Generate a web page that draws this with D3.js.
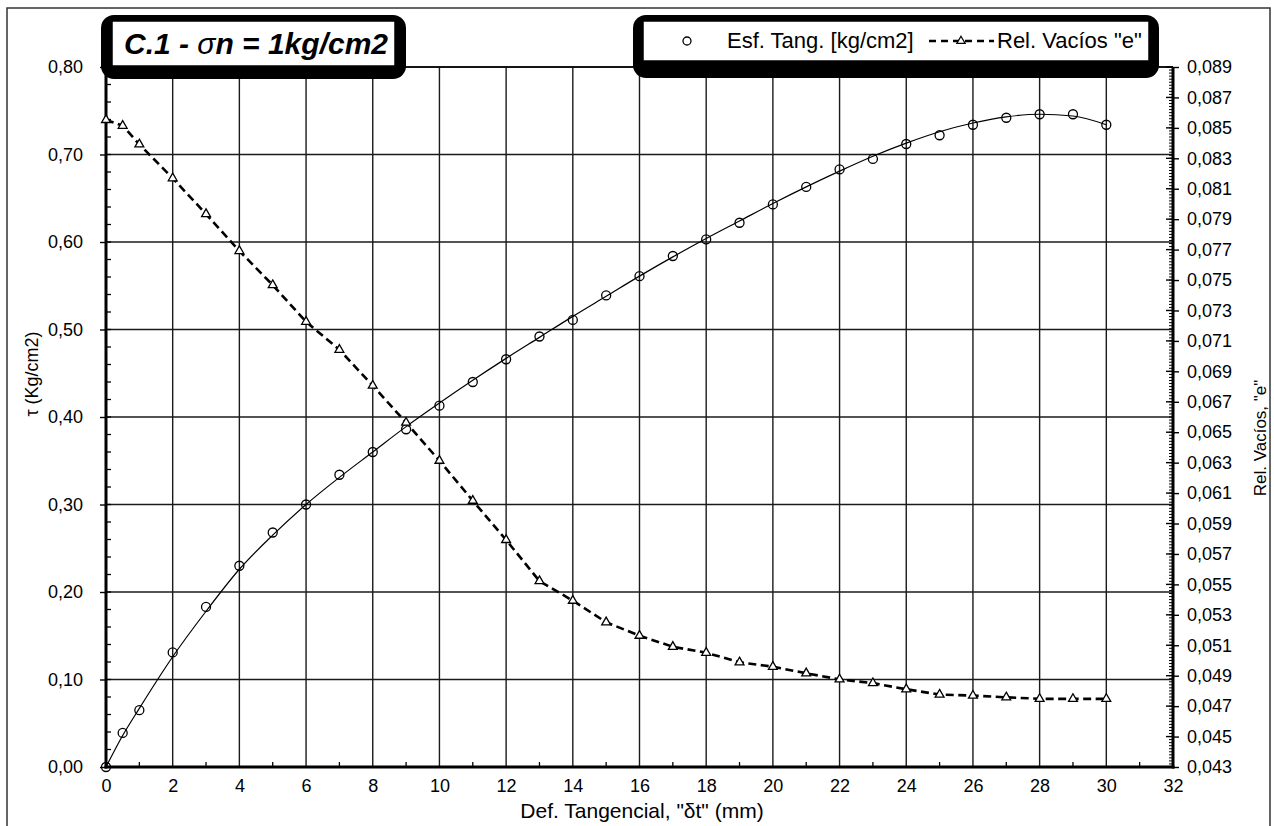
<!DOCTYPE html>
<html>
<head>
<meta charset="utf-8">
<script src="https://cdn.jsdelivr.net/npm/d3@7"></script>
<style>
  html, body { margin: 0; padding: 0; background: #fff; }
  svg { display: block; font-family: Arial, "Liberation Sans", sans-serif; }
</style>
</head>
<body>
<svg id="chart" width="1274" height="826"></svg>
<script>
// ---- data ----
const defX = [0, 0.5, 1, 2, 3, 4, 5, 6, 7, 8, 9, 10, 11, 12, 13, 14, 15, 16, 17, 18, 19, 20, 21, 22, 23, 24, 25, 26, 27, 28, 29, 30];
const esfTang = [0.000, 0.039, 0.065, 0.131, 0.183, 0.230, 0.268, 0.300, 0.334, 0.360, 0.386, 0.413, 0.440, 0.466, 0.492, 0.511, 0.539, 0.561, 0.584, 0.603, 0.622, 0.643, 0.663, 0.683, 0.695, 0.712, 0.722, 0.734, 0.742, 0.746, 0.746, 0.734];
const relVacios = [0.08552, 0.08514, 0.08392, 0.08169, 0.07934, 0.07691, 0.07467, 0.07226, 0.07042, 0.06806, 0.06563, 0.06313, 0.06050, 0.05792, 0.05522, 0.05393, 0.05251, 0.05163, 0.05090, 0.05051, 0.04988, 0.04959, 0.04916, 0.04876, 0.04851, 0.04811, 0.04776, 0.04769, 0.04758, 0.04748, 0.04748, 0.04748];
// smooth trend line drawn through the shear-stress points
const trendX = [0, 0.5, 1, 2, 3, 4, 5, 6, 7, 8, 9, 10, 11, 12, 13, 14, 15, 16, 17, 18, 19, 20, 21, 22, 23, 24, 25, 26, 27, 28, 29, 30];
const trendTau = [0.000, 0.036, 0.067, 0.126, 0.178, 0.226, 0.265, 0.300, 0.331, 0.360, 0.389, 0.416, 0.442, 0.467, 0.491, 0.515, 0.538, 0.561, 0.583, 0.604, 0.624, 0.644, 0.663, 0.681, 0.698, 0.713, 0.726, 0.736, 0.743, 0.746, 0.744, 0.734];

const xTicks = d3.range(0, 33, 2);
const xMinor = d3.range(1, 32, 2);
const yLeftTicks = d3.range(0, 0.801, 0.1);
const yLeftMinor = d3.range(0, 0.801, 0.02);
const yRightTicks = d3.range(0.043, 0.0891, 0.002);
const yRightMinor = d3.range(0.043, 0.0891, 0.0002);

const titleText = "C.1 - ";
const legendLabels = ["Esf. Tang. [kg/cm2]", "Rel. Vacíos \"e\""];
const xTitle = "Def. Tangencial, \"δt\" (mm)";
const yLeftTitle = "τ  (Kg/cm2)";
const yRightTitle = "Rel. Vacíos,  \"e\"";

// ---- layout ----
const L = 106, R = 1173, T = 67, B = 767;
const FONT = "Arial, 'Liberation Sans', sans-serif";
const svg = d3.select("#chart");

const x = d3.scaleLinear().domain([0, 32]).range([L, R]);
const yL = d3.scaleLinear().domain([0, 0.8]).range([B, T]);
const yR = d3.scaleLinear().domain([0.043, 0.089]).range([B, T]);
const comma = f => v => d3.format(f)(v).replace(".", ",");

// outer frame
svg.append("path").attr("d", "M7,830 L7,8 L1270,8 L1270,830")
  .attr("fill", "none").attr("stroke", "#333").attr("stroke-width", 1.5);

// grid
const grid = svg.append("g").attr("stroke", "#1a1a1a").attr("stroke-width", 1.4);
grid.selectAll(".gv").data(xTicks.filter(d => d > 0 && d < 32)).join("line")
  .attr("x1", d => x(d)).attr("x2", d => x(d)).attr("y1", T).attr("y2", B);
grid.selectAll(".gh").data(yLeftTicks.filter(d => d > 0.001)).join("line")
  .attr("x1", L).attr("x2", R).attr("y1", d => yL(d)).attr("y2", d => yL(d));

// left axis
const axL = svg.append("g").attr("transform", `translate(${L},0)`)
  .call(d3.axisLeft(yL).tickValues(yLeftTicks).tickFormat(comma(".2f")).tickSize(6).tickPadding(17));
axL.select(".domain").remove();
axL.selectAll("line").attr("stroke", "#000").attr("stroke-width", 1.4);
axL.selectAll("text").attr("font-size", 18).attr("fill", "#000").attr("font-family", FONT);
svg.append("g").selectAll("line").data(yLeftMinor).join("line")
  .attr("x1", L).attr("x2", L + 5).attr("y1", d => yL(d)).attr("y2", d => yL(d))
  .attr("stroke", "#000").attr("stroke-width", 1.3);

// right axis
const axR = svg.append("g").attr("transform", `translate(${R},0)`)
  .call(d3.axisRight(yR).tickValues(yRightTicks).tickFormat(comma(".3f")).tickSize(6).tickPadding(8));
axR.select(".domain").remove();
axR.selectAll("line").attr("stroke", "#000").attr("stroke-width", 1.4);
axR.selectAll("text").attr("font-size", 18).attr("fill", "#000").attr("font-family", FONT);
svg.append("g").selectAll("line").data(yRightMinor).join("line")
  .attr("x1", R - 4).attr("x2", R).attr("y1", d => yR(d)).attr("y2", d => yR(d))
  .attr("stroke", "#000").attr("stroke-width", 1);
svg.append("g").selectAll("line").data(yRightTicks).join("line")
  .attr("x1", R - 7).attr("x2", R).attr("y1", d => yR(d)).attr("y2", d => yR(d))
  .attr("stroke", "#000").attr("stroke-width", 1.4);

// bottom axis
const axB = svg.append("g").attr("transform", `translate(0,${B})`)
  .call(d3.axisBottom(x).tickValues(xTicks).tickFormat(d3.format("d")).tickSize(0).tickPadding(12));
axB.select(".domain").remove();
axB.selectAll("text").attr("font-size", 18).attr("fill", "#000").attr("font-family", FONT);
svg.append("g").selectAll("line").data(xMinor).join("line")
  .attr("x1", d => x(d)).attr("x2", d => x(d)).attr("y1", B).attr("y2", B - 5)
  .attr("stroke", "#000").attr("stroke-width", 1.3);

// frame lines of plot
svg.append("line").attr("x1", L).attr("x2", R).attr("y1", T).attr("y2", T).attr("stroke", "#000").attr("stroke-width", 1.6);
svg.append("line").attr("x1", L).attr("x2", L).attr("y1", T).attr("y2", B + 1.5).attr("stroke", "#000").attr("stroke-width", 3);
svg.append("line").attr("x1", R).attr("x2", R).attr("y1", T).attr("y2", B + 1.5).attr("stroke", "#000").attr("stroke-width", 3);
svg.append("line").attr("x1", L - 1.5).attr("x2", R + 1.5).attr("y1", B).attr("y2", B).attr("stroke", "#000").attr("stroke-width", 3);

// trend line (tau)
const trendData = trendX.map((d, i) => [d, trendTau[i]]);
svg.append("path").datum(trendData)
  .attr("d", d3.line().x(d => x(d[0])).y(d => yL(d[1])).curve(d3.curveMonotoneX))
  .attr("fill", "none").attr("stroke", "#000").attr("stroke-width", 1.2);

// tau circles
const tauData = defX.map((d, i) => [d, esfTang[i]]);
svg.append("g").selectAll("circle").data(tauData).join("circle")
  .attr("cx", d => x(d[0])).attr("cy", d => yL(d[1])).attr("r", 4.5)
  .attr("fill", "none").attr("stroke", "#000").attr("stroke-width", 1.3);

// void ratio dashed line + triangles
const eData = defX.map((d, i) => [d, relVacios[i]]);
svg.append("path").datum(eData)
  .attr("d", d3.line().x(d => x(d[0])).y(d => yR(d[1])))
  .attr("fill", "none").attr("stroke", "#000").attr("stroke-width", 2.6).attr("stroke-dasharray", "8,4.5");
const tri = d3.symbol().type(d3.symbolTriangle).size(34);
svg.append("g").selectAll("path").data(eData).join("path")
  .attr("transform", d => `translate(${x(d[0])},${yR(d[1])})`)
  .attr("d", tri).attr("fill", "#fff").attr("stroke", "#000").attr("stroke-width", 1.3);

// axis titles
svg.append("text").attr("transform", `translate(38,374) rotate(-90)`)
  .attr("text-anchor", "middle").attr("font-size", 18).text(yLeftTitle);
svg.append("text").attr("transform", `translate(1266,438) rotate(-90)`)
  .attr("text-anchor", "middle").attr("font-size", 17).text(yRightTitle);
svg.append("text").attr("x", 642).attr("y", 818)
  .attr("text-anchor", "middle").attr("font-size", 21).text(xTitle);

// title box
svg.append("rect").attr("x", 101).attr("y", 15).attr("width", 305).attr("height", 64).attr("rx", 13).attr("fill", "#000");
svg.append("rect").attr("x", 112).attr("y", 21).attr("width", 283).attr("height", 45).attr("fill", "#fff").attr("stroke", "#000").attr("stroke-width", 1.5);
const tt = svg.append("text").attr("x", 256).attr("y", 54).attr("text-anchor", "middle")
  .attr("font-size", 30).attr("font-weight", "bold").attr("font-style", "italic");
tt.append("tspan").text(titleText);
tt.append("tspan").attr("font-weight", "normal").text("σ");
tt.append("tspan").text("n = 1kg/cm2");

// legend box
svg.append("rect").attr("x", 633).attr("y", 15).attr("width", 526).attr("height", 63).attr("rx", 13).attr("fill", "#000");
svg.append("rect").attr("x", 643).attr("y", 21).attr("width", 506).attr("height", 40).attr("fill", "#fff").attr("stroke", "#000").attr("stroke-width", 1.5);
svg.append("circle").attr("cx", 687).attr("cy", 41).attr("r", 4).attr("fill", "none").attr("stroke", "#000").attr("stroke-width", 1.3);
svg.append("text").attr("x", 727).attr("y", 48).attr("font-size", 22).text(legendLabels[0]);
svg.append("line").attr("x1", 929).attr("x2", 994).attr("y1", 41).attr("y2", 41)
  .attr("stroke", "#000").attr("stroke-width", 2.4).attr("stroke-dasharray", "7,5");
svg.append("path").attr("transform", "translate(961,41)").attr("d", d3.symbol().type(d3.symbolTriangle).size(30))
  .attr("fill", "#fff").attr("stroke", "#000").attr("stroke-width", 1.2);
svg.append("text").attr("x", 997).attr("y", 48).attr("font-size", 22).text(legendLabels[1]);
</script>
</body>
</html>
